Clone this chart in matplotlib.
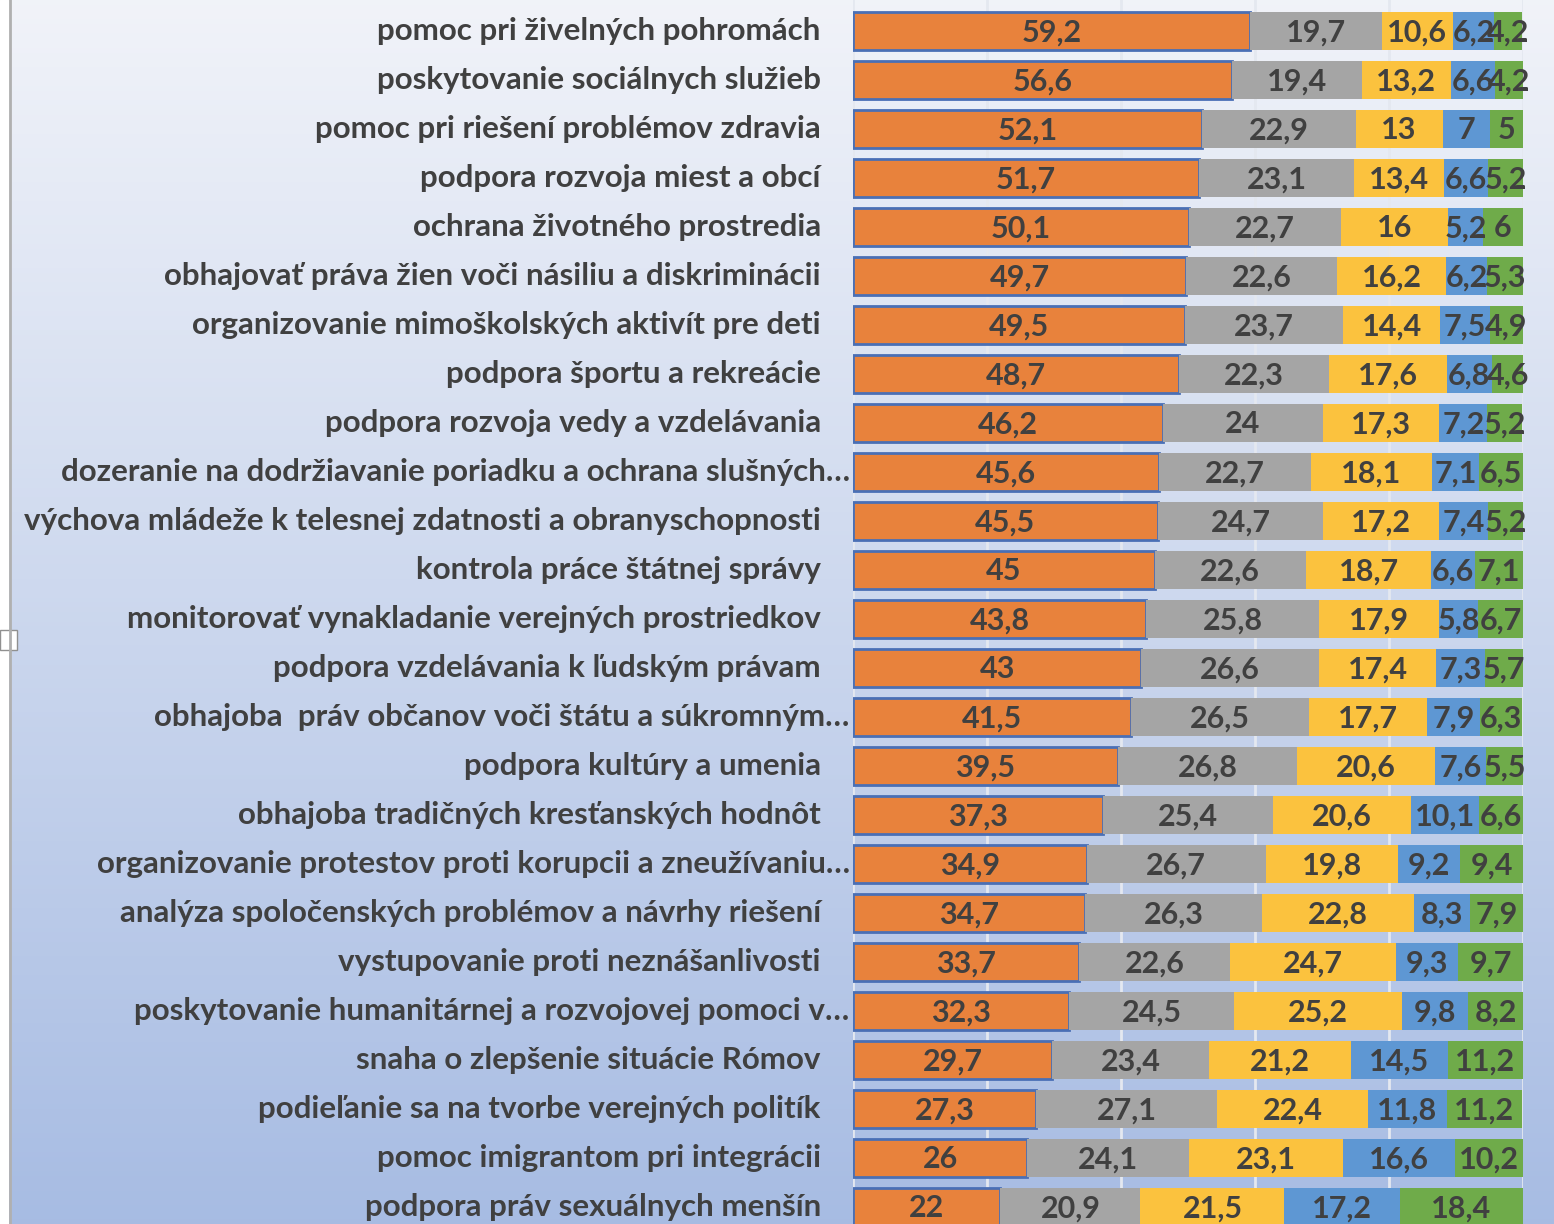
import matplotlib

matplotlib.use("Agg")
import matplotlib.pyplot as plt
import numpy as np
from matplotlib.patches import Rectangle

categories = [
    "pomoc pri živelných pohromách",
    "poskytovanie sociálnych služieb",
    "pomoc pri riešení problémov zdravia",
    "podpora rozvoja miest a obcí",
    "ochrana životného prostredia",
    "obhajovať práva žien voči násiliu a diskriminácii",
    "organizovanie mimoškolských aktivít pre deti",
    "podpora športu a rekreácie",
    "podpora rozvoja vedy a vzdelávania",
    "dozeranie na dodržiavanie poriadku a ochrana slušných…",
    "výchova mládeže k telesnej zdatnosti a obranyschopnosti",
    "kontrola práce štátnej správy",
    "monitorovať vynakladanie verejných prostriedkov",
    "podpora vzdelávania k ľudským právam",
    "obhajoba  práv občanov voči štátu a súkromným…",
    "podpora kultúry a umenia",
    "obhajoba tradičných kresťanských hodnôt",
    "organizovanie protestov proti korupcii a zneužívaniu…",
    "analýza spoločenských problémov a návrhy riešení",
    "vystupovanie proti neznášanlivosti",
    "poskytovanie humanitárnej a rozvojovej pomoci v…",
    "snaha o zlepšenie situácie Rómov",
    "podieľanie sa na tvorbe verejných politík",
    "pomoc imigrantom pri integrácii",
    "podpora práv sexuálnych menšín",
]

s1 = [59.2, 56.6, 52.1, 51.7, 50.1, 49.7, 49.5, 48.7, 46.2, 45.6, 45.5, 45, 43.8,
      43, 41.5, 39.5, 37.3, 34.9, 34.7, 33.7, 32.3, 29.7, 27.3, 26, 22]
s2 = [19.7, 19.4, 22.9, 23.1, 22.7, 22.6, 23.7, 22.3, 24, 22.7, 24.7, 22.6, 25.8,
      26.6, 26.5, 26.8, 25.4, 26.7, 26.3, 22.6, 24.5, 23.4, 27.1, 24.1, 20.9]
s3 = [10.6, 13.2, 13, 13.4, 16, 16.2, 14.4, 17.6, 17.3, 18.1, 17.2, 18.7, 17.9,
      17.4, 17.7, 20.6, 20.6, 19.8, 22.8, 24.7, 25.2, 21.2, 22.4, 23.1, 21.5]
s4 = [6.2, 6.6, 7, 6.6, 5.2, 6.2, 7.5, 6.8, 7.2, 7.1, 7.4, 6.6, 5.8,
      7.3, 7.9, 7.6, 10.1, 9.2, 8.3, 9.3, 9.8, 14.5, 11.8, 16.6, 17.2]
s5 = [4.2, 4.2, 5, 5.2, 6, 5.3, 4.9, 4.6, 5.2, 6.5, 5.2, 7.1, 6.7,
      5.7, 6.3, 5.5, 6.6, 9.4, 7.9, 9.7, 8.2, 11.2, 11.2, 10.2, 18.4]

series = [s1, s2, s3, s4, s5]
colors = ["#e8823c", "#a5a5a5", "#fbc23e", "#5e97d3", "#6fab4a"]
TXT = "#404040"

fig = plt.figure(figsize=(15.54, 12.24), dpi=100)

# gradient background
bg = fig.add_axes([0, 0, 1, 1], zorder=-10)
grad = np.linspace(0, 1, 256)[:, None]
top = np.array([0.945, 0.953, 0.976])
bot = np.array([0.655, 0.737, 0.890])
img = top[None, None, :] * (1 - grad[:, :, None]) + bot[None, None, :] * grad[:, :, None]
bg.imshow(img, aspect="auto", extent=[0, 1, 0, 1])
bg.set_xlim(0, 1); bg.set_ylim(0, 1); bg.axis("off")
bg.add_patch(Rectangle((0, 0), 8 / 1554, 1, color="white", transform=bg.transAxes))
bg.plot([10 / 1554, 10 / 1554], [0, 1], color="#b0b0b0", lw=2, transform=bg.transAxes)
bg.add_patch(Rectangle((0, 1 - 650 / 1224), 17 / 1554, 20 / 1224, facecolor="white",
                       edgecolor="#909090", lw=1, transform=bg.transAxes))

x0, x1 = 853 / 1554, 1523 / 1554
ax = fig.add_axes([x0, 0, x1 - x0, 1])
ax.patch.set_alpha(0)
y = np.arange(len(categories))
left = np.zeros(len(categories))
for i, (vals, c) in enumerate(zip(series, colors)):
    vals = np.array(vals)
    if i == 0:
        ax.barh(y, vals, 0.76, left=left, color=c, edgecolor="#4a6fb5", lw=2, zorder=3)
    else:
        ax.barh(y, vals, 0.76, left=left, color=c, lw=0, zorder=3)
    for yy, l, v in zip(y, left, vals):
        ax.text(l + v / 2, yy + 0.03, f"{v:g}".replace(".", ","), ha="center", va="center",
                fontsize=22, fontweight="bold", color=TXT, family="Lato", zorder=4)
    left = left + vals

ax.set_xlim(0, 100)
ax.set_ylim(24 + 17 / 49, -31 / 49)
for g in (0, 20, 40, 60, 80, 100):
    ax.axvline(g, color="#e4e8f0", lw=2, zorder=1)
ax.set_xticks([]); ax.set_yticks([])
for s in ax.spines.values():
    s.set_visible(False)

for yy, lab in zip(y, categories):
    xo = -0.5 if lab.endswith("…") else -4.8
    ax.text(xo, yy, lab, ha="right", va="center", fontsize=22.6, fontweight="bold",
            color=TXT, family="Lato", clip_on=False)

fig.savefig("out.png", dpi=100)
